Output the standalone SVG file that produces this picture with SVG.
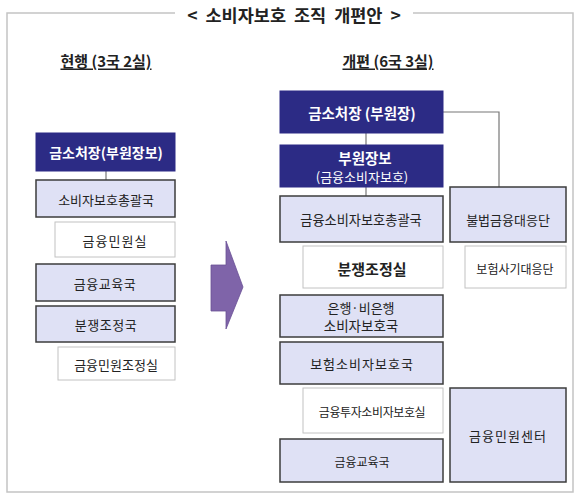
<svg xmlns="http://www.w3.org/2000/svg" width="580" height="499" viewBox="0 0 580 499">
<style>
text{font-family:"Noto Sans CJK KR","Noto Sans",sans-serif;fill:#222;text-anchor:middle;dominant-baseline:central}
.frame{fill:none;stroke:#c4c4c4;stroke-width:1.5}
.navy{fill:#2c2b85;stroke:#2c2b85;stroke-width:1}
.light{fill:#dfe1f5;stroke:#3c3c3c;stroke-width:1.5}
.white{fill:#fff;stroke:#c2c2c2;stroke-width:1}
.wt{fill:#fff;font-weight:bold}
.conn{fill:none;stroke:#777;stroke-width:1.2}
.head{font-weight:bold;font-size:15px;text-decoration:underline}
</style>
<rect width="580" height="499" fill="#fff"/>
<g id="frame">
<path class="frame" d="M175,13 H7 V492 H573 V13 H413"/>
<text x="294" y="14" font-size="17.5" font-weight="bold" word-spacing="4">&lt; 소비자보호 조직 개편안 &gt;</text>
</g>
<text class="head" x="106" y="60">현행 (3국 2실)</text>
<text class="head" x="388" y="60">개편 (6국 3실)</text>
<g id="connectors">
<line class="conn" x1="106" y1="171" x2="106" y2="180"/>
<line class="conn" x1="366" y1="133" x2="366" y2="145"/>
<line class="conn" x1="366" y1="187" x2="366" y2="196"/>
<polyline class="conn" points="443,112 499,112 499,187"/>
</g>
<g id="arrow">
<polygon points="211,265 226,265 226,241 243,287 226,329 226,311 211,311" fill="#7f64a9" stroke="#6a5096" stroke-width="0.8"/>
</g>
<g id="old-head"><rect class="navy" x="36" y="133" width="139" height="38"/><text class="wt" x="106" y="152" font-size="14">금소처장(부원장보)</text></g>
<g id="old-general"><rect class="light" x="36" y="180" width="139" height="37"/><text x="106" y="199" font-size="13">소비자보호총괄국</text></g>
<g id="old-complaint"><rect class="white" x="55" y="222" width="120" height="35"/><text x="115" y="240" font-size="13" letter-spacing="1">금융민원실</text></g>
<g id="old-edu"><rect class="light" x="36" y="264" width="139" height="37"/><text x="105" y="283" font-size="13" letter-spacing="0.5">금융교육국</text></g>
<g id="old-dispute"><rect class="light" x="36" y="306" width="139" height="36"/><text x="106" y="324" font-size="13" letter-spacing="0.5">분쟁조정국</text></g>
<g id="old-mediation"><rect class="white" x="58" y="347" width="117" height="33"/><text x="116" y="364" font-size="13">금융민원조정실</text></g>
<g id="new-head"><rect class="navy" x="280" y="91" width="163" height="42"/><text class="wt" x="362" y="112" font-size="14.5">금소처장 (부원장)</text></g>
<g id="new-deputy"><rect class="navy" x="280" y="145" width="163" height="42"/><text class="wt" x="365" y="157" font-size="14.5">부원장보</text><text x="362" y="176" font-size="13" style="fill:#fff">(금융소비자보호)</text></g>
<g id="new-general"><rect class="light" x="280" y="196" width="163" height="46"/><text x="361" y="219" font-size="13.2">금융소비자보호총괄국</text></g>
<g id="new-illegal"><rect class="light" x="450" y="187" width="116" height="55"/><text x="508" y="219" font-size="13">불법금융대응단</text></g>
<g id="new-dispute"><rect class="white" x="303" y="246" width="140" height="42"/><text x="372" y="268" font-size="15" font-weight="600">분쟁조정실</text></g>
<g id="new-fraud"><rect class="white" x="465" y="246" width="101" height="42"/><text x="515" y="268" font-size="12">보험사기대응단</text></g>
<g id="new-bank"><rect class="light" x="280" y="295" width="163" height="42"/><text x="361" y="307" font-size="13">은행·비은행</text><text x="361" y="325" font-size="13.5">소비자보호국</text></g>
<g id="new-insurance"><rect class="light" x="280" y="342" width="163" height="42"/><text x="362" y="363" font-size="13" letter-spacing="1">보험소비자보호국</text></g>
<g id="new-invest"><rect class="white" x="303" y="388" width="140" height="45"/><text x="372" y="411" font-size="12" letter-spacing="-0.4">금융투자소비자보호실</text></g>
<g id="new-edu"><rect class="light" x="280" y="439" width="163" height="43"/><text x="362" y="461" font-size="12">금융교육국</text></g>
<g id="new-center"><rect class="light" x="450" y="388" width="116" height="94"/><text x="508" y="435" font-size="13" letter-spacing="1">금융민원센터</text></g>
</svg>
